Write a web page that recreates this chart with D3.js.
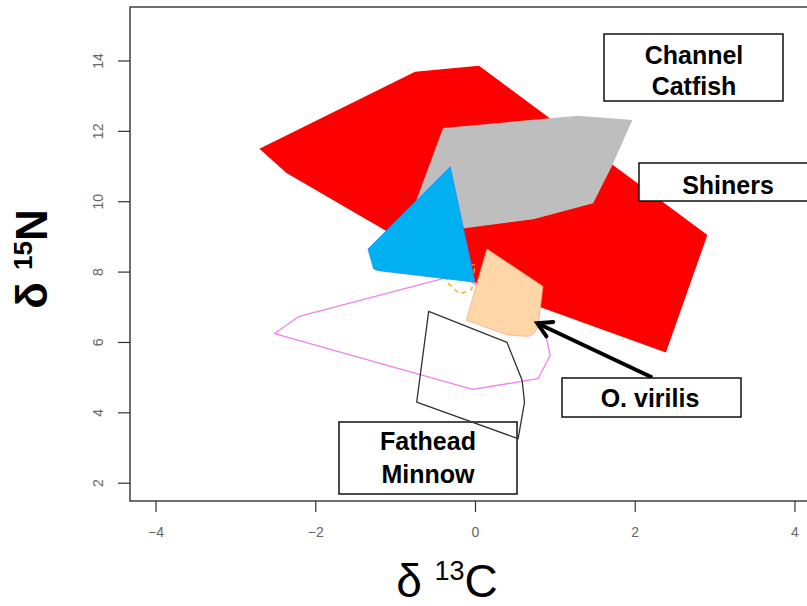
<!DOCTYPE html>
<html><head><meta charset="utf-8">
<script src="https://cdn.jsdelivr.net/npm/d3@7"></script>
<style>body{margin:0;background:#fff}svg{display:block}</style>
</head><body><svg id="c" width="807" height="606"></svg>
<script>
// ---- data (delta13C, delta15N) ----
const xTicks = [-4, -2, 0, 2, 4];
const yTicks = [2, 4, 6, 8, 10, 12, 14];
const channelCatfish = [[-2.70,11.49],[-2.36,10.80],[0.06,7.61],[2.39,5.70],[2.91,9.04],[0.05,13.85],[-0.75,13.68]];
const shiners = [[-0.40,12.08],[1.29,12.43],[1.97,12.31],[1.72,11.03],[1.48,9.94],[0.73,9.49],[-0.13,9.23],[-0.79,9.69]];
const violetGroup = [[-2.51,6.24],[-2.20,6.73],[-0.19,7.93],[0.88,6.27],[0.94,5.61],[0.79,4.96],[-0.03,4.65]];
const orangeGroup = [[-0.34,7.67],[-0.19,7.36],[-0.04,7.50],[0.00,8.20],[-0.38,8.04]];
const fatheadMinnow = [[-0.58,6.87],[0.40,5.99],[0.59,4.91],[0.62,4.29],[0.54,3.25],[-0.73,4.29]];
const blueGroup = [[-0.31,10.98],[-1.34,8.64],[-1.27,8.08],[-1.22,8.03],[0.00,7.70]];
const oVirilis = [[0.15,8.64],[0.85,7.58],[0.79,6.44],[0.74,6.24],[0.67,6.16],[0.50,6.18],[0.38,6.22],[-0.11,6.62]];
const arrowFrom = [2.22, 4.99];
const arrowTo = [0.78, 6.53];

// ---- layout ----
const svg = d3.select('#c');
const x = d3.scaleLinear().domain([-4.32, 4.32]).range([130, 820]);
const y = d3.scaleLinear().domain([1.48, 15.52]).range([501, 7]);
const line = d3.line().x(d => x(d[0])).y(d => y(d[1]));
const closed = d => line(d) + 'Z';

function poly(data, fill, stroke, sw, dash) {
  svg.append('path').attr('d', closed(data))
    .attr('fill', fill).attr('stroke', stroke || 'none')
    .attr('stroke-width', sw || 1).attr('stroke-dasharray', dash || null)
    .attr('stroke-linejoin', 'round');
}

poly(channelCatfish, '#FF0000');
poly(shiners, '#BEBEBE');
poly(violetGroup, 'none', '#EE82EE', 1.3);
poly(orangeGroup, 'none', '#FFA500', 1.3, '5,4');
poly(blueGroup, '#00B0F0', '#1E90FF', 0.8);
poly(oVirilis, '#FED6A8', '#FFA98A', 0.8);

// ---- axes ----
const font = 'Liberation Sans, Arial, sans-serif';
const xAxis = svg.append('g').attr('transform', 'translate(0,501)')
  .call(d3.axisBottom(x).tickValues(xTicks).tickSize(11).tickPadding(15).tickFormat(d3.format('d')));
const yAxis = svg.append('g').attr('transform', 'translate(130,0)')
  .call(d3.axisLeft(y).tickValues(yTicks).tickSize(12).tickPadding(0).tickFormat(d3.format('d')));
[xAxis, yAxis].forEach(g => {
  g.select('.domain').remove();
  g.selectAll('line').attr('stroke', '#333').attr('stroke-width', 1.2);
  g.selectAll('text').attr('fill', '#666').style('font-family', font).style('font-size', '14px');
});
yAxis.selectAll('.tick text')
  .attr('x', null).attr('dy', null)
  .attr('text-anchor', 'middle')
  .attr('transform', 'translate(-32,0) rotate(-90)')
  .attr('dy', '0.35em');

// plot frame
svg.append('rect').attr('x', 130).attr('y', 7).attr('width', 720).attr('height', 494)
  .attr('fill', 'none').attr('stroke', '#222').attr('stroke-width', 1.3);

// axis titles
const xt = svg.append('text').attr('x', 447).attr('y', 597).attr('text-anchor', 'middle')
  .style('font-family', font).style('font-size', '46px').attr('fill', '#000');
xt.append('tspan').text('δ ');
xt.append('tspan').text('13').style('font-size', '27px').attr('dy', -17);
xt.append('tspan').text('C').attr('dy', 17);

const yt = svg.append('text').attr('transform', 'translate(47,259) rotate(-90)').attr('text-anchor', 'middle')
  .style('font-family', font).style('font-size', '44px').style('font-weight', 'bold').attr('fill', '#000');
yt.append('tspan').text('δ ');
yt.append('tspan').text('15').style('font-size', '26px').attr('dy', -15);
yt.append('tspan').text('N').attr('dy', 15);

// arrow
const ax0 = x(arrowFrom[0]), ay0 = y(arrowFrom[1]), ax1 = x(arrowTo[0]), ay1 = y(arrowTo[1]);
svg.append('line').attr('x1', ax0).attr('y1', ay0).attr('x2', ax1).attr('y2', ay1)
  .attr('stroke', '#000').attr('stroke-width', 4);
const ang = Math.atan2(ay0 - ay1, ax0 - ax1), hl = 16, ha = Math.PI / 6;
const head = [[ax1 + hl * Math.cos(ang + ha), ay1 + hl * Math.sin(ang + ha)], [ax1, ay1], [ax1 + hl * Math.cos(ang - ha), ay1 + hl * Math.sin(ang - ha)]];
svg.append('path').attr('d', d3.line()(head)).attr('fill', 'none').attr('stroke', '#000')
  .attr('stroke-width', 4).attr('stroke-linecap', 'round').attr('stroke-linejoin', 'miter');

// label boxes
const labels = [
  {lines: ['Channel', 'Catfish'], box: [604, 34, 179, 67], tx: 694, ty: [64, 95]},
  {lines: ['Shiners'], box: [639, 163, 200, 38], tx: 728, ty: [194]},
  {lines: ['O. virilis'], box: [562, 378, 179, 39], tx: 650, ty: [407]},
  {lines: ['Fathead', 'Minnow'], box: [339, 422, 178, 72], tx: 428, ty: [450, 483]}
];
labels.forEach(l => {
  svg.append('rect').attr('x', l.box[0]).attr('y', l.box[1]).attr('width', l.box[2]).attr('height', l.box[3])
    .attr('fill', '#fff').attr('stroke', '#111').attr('stroke-width', 1.5);
  l.lines.forEach((t, i) => {
    svg.append('text').attr('x', l.tx).attr('y', l.ty[i]).attr('text-anchor', 'middle')
      .style('font-family', font).style('font-size', '25px').style('font-weight', 'bold').attr('fill', '#000').text(t);
  });
});

// Fathead minnow outline drawn on top of its label box (as in the original)
poly(fatheadMinnow, 'none', '#333333', 1.3);
</script></body></html>
